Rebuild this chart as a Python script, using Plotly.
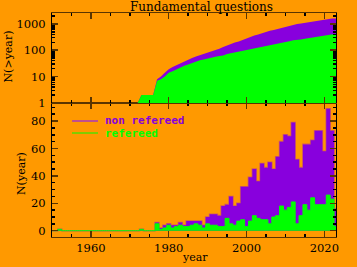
import numpy as np
import plotly.graph_objects as go

# ---------------- data ----------------
years = list(range(1950, 2024))

total_per_year = [
    0, 0, 1, 0, 0, 0, 0, 0, 0, 0,          # 1950-1959
    0, 0, 0, 0, 0, 0, 0, 0, 0, 0,          # 1960-1969
    0, 0, 0, 1, 0, 0, 0, 6, 2, 4,          # 1970-1979
    5, 4, 4, 6, 4, 7, 7, 7, 7, 4,          # 1980-1989
    10, 12, 12, 11, 18, 19, 25, 18, 20, 32,  # 1990-1999
    32, 39, 45, 36, 49, 46, 50, 45, 54, 65,  # 2000-2009
    70, 69, 79, 52, 46, 63, 63, 66, 73, 73,  # 2010-2019
    58, 89, 73, 16,                          # 2020-2023
]

refereed_per_year = [
    0, 0, 1, 0, 0, 0, 0, 0, 0, 0,
    0, 0, 0, 0, 0, 0, 0, 0, 0, 0,
    0, 0, 0, 1, 0, 0, 0, 5, 1, 2,
    4, 2, 3, 4, 3, 3, 4, 5, 4, 2,
    5, 4, 4, 3, 3, 9, 5, 4, 7, 8,
    3, 7, 11, 9, 8, 8, 5, 10, 11, 18,
    15, 17, 21, 5, 11, 19, 15, 24, 19, 19,
    19, 26, 23, 3,
]

x_tick_vals = [1960, 1980, 2000, 2020]
title_text = "Fundamental questions"
legend_labels = ["non refereed", "refereed"]

# ---------------- derived ----------------
cum_total = np.cumsum(total_per_year).astype(float)
cum_ref = np.cumsum(refereed_per_year).astype(float)
cum_total_plot = [v if v > 0 else None for v in cum_total]
cum_ref_plot = [v if v > 0 else None for v in cum_ref]

ORANGE = "#ff9900"
PURPLE = "#8800dd"
GREEN = "#00ff00"
TICKC = "#5a3500"
SERIF = "DejaVu Serif"

fig = go.Figure()

# bottom panel: yearly histograms
fig.add_trace(go.Scatter(
    x=years, y=total_per_year, mode="lines", line_shape="hvh",
    line=dict(color="rgba(136,0,221,0.4)", width=1.6),
    fill="tozeroy", fillcolor=PURPLE, xaxis="x", yaxis="y",
    showlegend=False, hoverinfo="skip"))
fig.add_trace(go.Scatter(
    x=years, y=refereed_per_year, mode="lines", line_shape="hvh",
    line=dict(color=GREEN, width=1),
    fill="tozeroy", fillcolor=GREEN, xaxis="x", yaxis="y",
    showlegend=False, hoverinfo="skip"))

# top panel: cumulative (fill only)
fig.add_trace(go.Scatter(
    x=years, y=cum_total_plot, mode="lines",
    line=dict(color=PURPLE, width=0),
    fill="tozeroy", fillcolor=PURPLE, xaxis="x2", yaxis="y2",
    showlegend=False, hoverinfo="skip"))
fig.add_trace(go.Scatter(
    x=years, y=cum_ref_plot, mode="lines",
    line=dict(color=GREEN, width=0),
    fill="tozeroy", fillcolor=GREEN, xaxis="x2", yaxis="y2",
    showlegend=False, hoverinfo="skip"))

L, R, T, B = 52, 21, 13, 30
W, H = 357, 267
PW, PH = W - L - R, H - T - B
split = (237 - 103) / PH

def px_x(p):
    return (p - L) / PW

def px_y(p):
    return (H - B - p) / PH

tickfont = dict(family=SERIF, size=11.5, color="black")
common_x = dict(range=[1950, 2023], showline=True, linecolor=TICKC, linewidth=1,
                ticks="inside", ticklen=6, tickcolor=TICKC, tickwidth=1.5,
                mirror="allticks", showgrid=False, zeroline=False,
                tickvals=x_tick_vals,
                minor=dict(ticks="inside", ticklen=3, dtick=5, tick0=1950,
                           tickcolor="black", showgrid=False))

fig.update_layout(
    width=W, height=H,
    margin=dict(l=L, r=R, t=T, b=B, pad=0),
    paper_bgcolor=ORANGE, plot_bgcolor=ORANGE,
    showlegend=False,
    xaxis=dict(domain=[0, 1], anchor="y", tickfont=tickfont, **common_x),
    xaxis2=dict(domain=[0, 1], anchor="y2", matches="x", showticklabels=False,
                **common_x),
    yaxis=dict(domain=[0, split], anchor="x", range=[-4.6, 93.2],
               tick0=0, dtick=20, showline=True, linecolor="black", linewidth=1,
               ticks="inside", ticklen=6, tickcolor=TICKC, tickwidth=1.5,
               mirror="allticks", showgrid=False, zeroline=False,
               tickfont=tickfont, ticklabelstandoff=3,
               minor=dict(ticks="inside", ticklen=3, dtick=5, tick0=0,
                          tickcolor="black", showgrid=False)),
    yaxis2=dict(domain=[split, 1], anchor="x2", type="log", range=[0, 3.41],
                dtick=1, exponentformat="none", showline=True,
                linecolor="black", linewidth=1,
                ticks="inside", ticklen=6, tickcolor=TICKC, tickwidth=1.5,
                mirror="allticks", showgrid=False, zeroline=False,
                tickfont=tickfont, ticklabelstandoff=3,
                minor=dict(ticks="inside", ticklen=3, dtick="D1",
                           tickcolor="black", showgrid=False)),
)

# title
fig.add_annotation(text=title_text, xref="paper", yref="paper",
                   x=px_x(201), y=px_y(7), xanchor="center", yanchor="middle",
                   showarrow=False, font=dict(family=SERIF, size=12, color="black"))

# legend drawn with shapes + annotations
fig.add_shape(type="line", xref="paper", yref="paper",
              x0=px_x(72), x1=px_x(98), y0=px_y(121), y1=px_y(121),
              line=dict(color="#c0508c", width=2))
fig.add_shape(type="line", xref="paper", yref="paper",
              x0=px_x(72), x1=px_x(98), y0=px_y(133), y1=px_y(133),
              line=dict(color=GREEN, width=1))
legend_font = dict(family="DejaVu Sans Mono", size=11)
fig.add_annotation(text="<b>" + legend_labels[0] + "</b>", xref="paper", yref="paper",
                   x=px_x(103), y=px_y(121), xanchor="left", yanchor="middle",
                   showarrow=False, font=dict(color=PURPLE, **legend_font))
fig.add_annotation(text="<b>" + legend_labels[1] + "</b>", xref="paper", yref="paper",
                   x=px_x(103), y=px_y(133), xanchor="left", yanchor="middle",
                   showarrow=False, font=dict(color=GREEN, **legend_font))

# axis titles
axfont = dict(family=SERIF, size=11, color="black")
fig.add_annotation(text="N(>year)", xref="paper", yref="paper",
                   x=px_x(8.5), y=px_y(57), textangle=-90, showarrow=False,
                   xanchor="center", yanchor="middle", font=axfont)
fig.add_annotation(text="N(year)", xref="paper", yref="paper",
                   x=px_x(21), y=px_y(174), textangle=-90, showarrow=False,
                   xanchor="center", yanchor="middle", font=axfont)
fig.add_annotation(text="year", xref="paper", yref="paper",
                   x=px_x(195), y=px_y(257), showarrow=False,
                   xanchor="center", yanchor="middle", font=axfont)

fig.write_html("out.html",
               config={"displayModeBar": False, "staticPlot": True},
               post_script="document.body.style.margin='0px';"
                           "document.body.style.background='#ff9900';")
